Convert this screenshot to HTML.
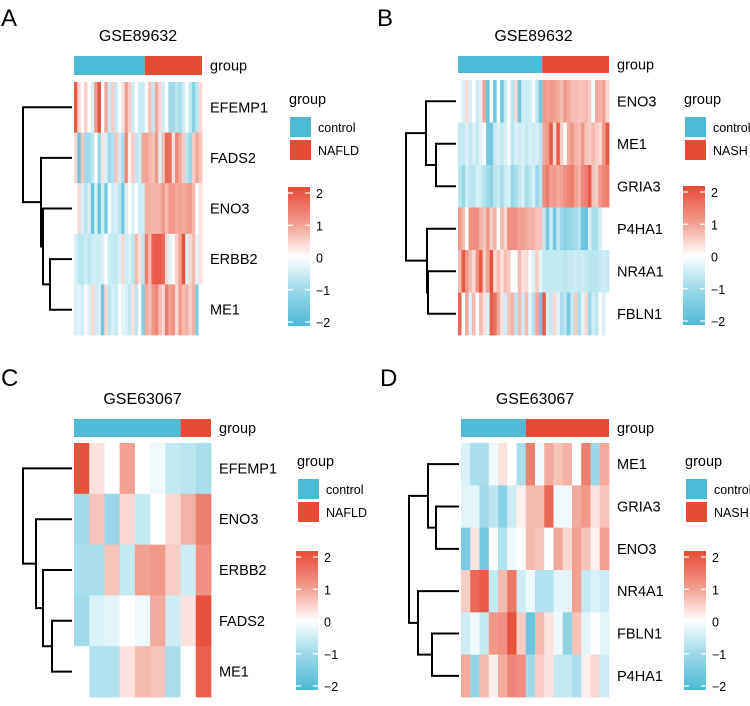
<!DOCTYPE html>
<html><head><meta charset="utf-8"><style>
html,body{margin:0;padding:0;background:#fff;}
svg text{font-family:"Liberation Sans",Arial,sans-serif;fill:#000;}
</style></head><body>
<svg id="fig" width="750" height="701" xmlns="http://www.w3.org/2000/svg"></svg>
<script>
// ---- Panel A data (GSE89632, control vs NAFLD) ----
const aRows = ["EFEMP1","FADS2","ENO3","ERBB2","ME1"];
const aGroups = ["control","NAFLD"];
const aControlN = 21;
const aEFEMP1 = [1.8,.3,0,.4,0,-.3,1,1.9,0,.8,-.4,.4,-.5,0,.2,.9,.4,-.4,0,-.4,-.5,0,.5,-.5,.8,.3,-.4,0,-.9,-.9,-.6,-.8,-.4,0,-.5,-1.2,-.6,.3];
const aFADS2 = [.3,-1.6,.5,-.9,-.9,-.6,0,-1,.2,-.3,-.9,-.7,.5,-.4,-.8,1.2,.1,.4,-.5,-.4,.8,.9,.7,.5,1,-.3,.6,1.6,1.5,.2,1.2,.8,.4,-.6,-1,.4,.8,.5];
const aENO3 = [0,.3,-.3,-.6,-.3,-1.6,-.3,-1.6,-.4,-1.5,0,-.4,-.3,-.6,-1.5,-.3,0,-.3,0,-.4,-.4,.7,.7,.7,.7,.7,1,.6,1,1,.8,.9,.8,.9,1,.6,0,.2];
const aERBB2 = [-.3,-.6,-.6,-.4,-.6,-.4,-.4,-.4,-.3,0,-.4,-.5,-.5,-.3,.3,-.4,-.3,-.6,.6,.2,-.6,1.3,.6,1.7,1.8,1.8,1.6,.3,-.2,0,.4,.9,1.9,-.3,.3,.6,-.2,.2];
const aME1 = [-.3,-.2,-.4,0,-.3,.3,-.4,-.3,-1.5,.3,-.6,-.3,-.5,0,-.2,-.3,-.5,.2,-.6,0,-1.3,.8,.6,1,1.2,.6,.3,1.3,.9,1.1,.3,1,.6,.7,.4,.7,-1.3,0];
// ---- Panel B data (GSE89632, control vs NASH) ----
const bRows = ["ENO3","ME1","GRIA3","P4HA1","NR4A1","FBLN1"];
const bGroups = ["control","NASH"];
const bControlN = 24;
const bENO3 = [0,-.3,.3,-.3,0,-.4,-.3,.9,-1.6,0,-1.6,0,-1.6,-.4,0,-.6,.3,-1.5,-.4,-.4,-.4,0,-.6,-1.5,1,.9,1,.9,.8,.6,1,.8,.6,.6,.5,.5,.6,.4,0,.8,.7,.9,.3];
const bME1 = [-.5,-.5,-.3,-.5,-.3,-.5,-.2,0,-1.5,-1.5,-.5,-.3,-.5,-.3,0,-.6,-.3,-.4,-.3,-.5,-.3,-.4,-.3,-.6,.8,1,1.8,.3,1.8,.4,0,.8,1,.7,.6,1,.5,.4,.6,.4,.3,1,1.8];
const bGRIA3 = [-.6,-1,-.4,-.6,-.6,-.3,-.4,-.7,-.9,-1.1,-.6,-.5,-.8,-.4,-.3,-1,-.8,-.5,-.3,-.8,-.6,-.3,-1,-.6,1.1,1.3,.9,1,.8,.9,1.1,1.2,1.3,.9,.7,1.2,1.3,1.8,.5,.4,1,1.2,1.3];
const bP4HA1 = [1,.6,0,1.1,1.1,1.1,.7,.5,1,.4,.7,0,.6,.3,1.1,1.1,1.1,.9,.9,.8,.7,.7,.5,.5,-.5,-1.4,-.4,-1.5,-.5,-1,-1.2,-1.1,-1,-.9,-.7,-1.6,-1.6,-.3,-.8,-.8,-.3,0,0];
const bNR4A1 = [.6,1.8,1,.6,.3,1.1,1.8,.4,.9,1.9,.3,.6,.2,.6,.4,0,0,.6,.2,.3,0,-.3,.4,-.2,-.5,-.5,-.5,-.5,-.5,-.5,-.6,-.5,-.5,-.4,-.5,-.4,-.5,-.6,-.6,-.6,-.5,-.4,-.5];
const bFBLN1 = [1.6,0,.8,-.3,.6,0,.6,.2,-.3,1.7,1.5,.8,.2,-.4,.5,.7,-.6,.6,-.4,.6,-.2,-.7,.8,-1.5,1.8,-.3,-.5,.3,-.2,-.8,-.6,-1.4,-.5,.4,-.8,-.2,.3,-1,-.4,-.6,0,-.3,0];
// ---- Panel C data (GSE63067, control vs NAFLD) ----
const cRows = ["EFEMP1","ENO3","ERBB2","FADS2","ME1"];
const cGroups = ["control","NAFLD"];
const cControlN = 7;
const cEFEMP1 = [1.9,.2,0,.9,0,-.1,-.5,-.6,-.8];
const cENO3 = [-.9,.5,-1,.3,-.5,0,.3,.7,1.3];
const cERBB2 = [-.8,-.8,.5,-.5,.9,1,.4,-.4,1.1];
const cFADS2 = [-.9,-.3,-.2,0,-.1,.8,-.4,.2,1.9];
const cME1 = [0,-.7,-.7,.2,.6,.5,-.8,0,1.7];
// ---- Panel D data (GSE63067, control vs NASH) ----
const dRows = ["ME1","GRIA3","ENO3","NR4A1","FBLN1","P4HA1"];
const dGroups = ["control","NASH"];
const dControlN = 7;
const dME1 = [-.3,-.8,-.8,-.1,.2,0,-.8,1.3,-.1,.8,.5,.7,0,1.3,-1,.8];
const dGRIA3 = [-.2,-.2,-.9,-.6,-1.2,-.4,.1,.6,.6,1.6,-.1,-.1,.8,1,.2,.5];
const dENO3 = [-1.4,.2,-1.5,0,-.7,-.1,0,.6,.5,0,.8,.3,.9,.5,.1,.9];
const dNR4A1 = [.4,1.6,1.8,-.5,.6,1.4,-.4,-.1,-.7,-.7,-.2,-.2,.9,-.5,-.3,-.4];
const dFBLN1 = [-.4,-.1,-.5,1,1.1,1.9,.4,-1.6,.6,.2,-.1,-1.1,.5,-.2,0,-.2];
const dP4HA1 = [.8,-1.1,.6,.1,.8,1.2,1.1,-.9,.4,.2,-.5,-.5,-.8,.1,.3,-.4];
const colorTicks = [2,1,0,-1,-2];

const NS="http://www.w3.org/2000/svg";
const svg=document.getElementById('fig');
const BLUE=[77,187,213], RED=[230,75,53];
function col(v){v=Math.max(-2,Math.min(2,v));const t=Math.pow(Math.abs(v)/2,0.8);const c=v<0?BLUE:RED;
 return 'rgb('+c.map(x=>Math.round(255+(x-255)*t)).join(',')+')';}
function el(tag,attrs,parent){const e=document.createElementNS(NS,tag);for(const k in attrs)e.setAttribute(k,attrs[k]);(parent||svg).appendChild(e);return e;}
function txt(s,x,y,size,parent,anchor){const t=el('text',{x:x,y:y,'font-size':size,'text-anchor':anchor||'start'},parent);t.textContent=s;return t;}

function panel(p){
 const g=el('g',{});
 
 
 const lt=txt(p.letter,p.lx,p.ly,24,g);
 
 
 const tt=txt(p.title,(p.x0+p.x1)/2,p.ty,16,g,'middle');
 
 
 const n=p.data[0].length, cw=(p.x1-p.x0)/n, rh=(p.y1-p.y0)/p.rows.length;
 const xs=i=>p.x0+i*cw, ys=r=>p.y0+r*rh;
 const ab=el('g',{},g);
 
 
 const splitX=xs(p.ctrl);
 const r1=el('rect',{x:p.x0,y:p.gy0,width:splitX-p.x0,height:p.gy1-p.gy0,fill:'rgb(77,187,213)'},ab);
 
 
 const r2=el('rect',{x:splitX,y:p.gy0,width:p.x1-splitX,height:p.gy1-p.gy0,fill:'rgb(230,75,53)'},ab);
 
 
 const gl=txt('group',p.x1+8,(p.gy0+p.gy1)/2+5,14.5,g);
 
 
 const hm=el('g',{},g);
 
 
 p.data.forEach((row,r)=>{row.forEach((v,i)=>{
  const c=el('rect',{x:xs(i),y:ys(r),width:cw+0.4,height:rh+0.4,fill:col(v)},hm);
  
  
 });
 const rl=txt(p.rows[r],p.x1+8,ys(r)+rh/2+5,14.5,g);
 
 });
 const dg=el('g',{fill:'none',stroke:'#000','stroke-width':2},g);
 
 
 const leafX=p.x0-2;
 function node(t){ if(typeof t==='number') return {y:ys(t)+rh/2,x:leafX};
  const a=node(t[1]),b=node(t[2]);const x=t[0];
  el('path',{d:'M'+a.x+' '+a.y+'H'+x+'V'+b.y+'H'+b.x},dg);
  return {y:(a.y+b.y)/2,x:x};}
 node(p.tree);
 const lg=el('g',{},g);
 
 
 txt('group',p.legX,p.legY,14.5,lg);
 [p.groups[0],p.groups[1]].forEach((name,k)=>{
  const s=el('rect',{x:p.legX+1,y:p.legY+13+k*23,width:21,height:20,fill:k?'rgb(230,75,53)':'rgb(77,187,213)'},lg);
  
  
  txt(name,p.legX+29,p.legY+28+k*23,12.5,lg);
 });
 const cb=el('g',{},g);
 
 
 const cx=p.legX-1, cy0=p.cbY, cy1=p.cbY+139;
 el('rect',{x:cx,y:cy0,width:22,height:cy1-cy0,fill:'url(#grad)'},cb);
 const vy=v=>cy0+6+(2-v)/4*(cy1-cy0-10);
 colorTicks.forEach(v=>{
  el('line',{x1:cx,x2:cx+5,y1:vy(v),y2:vy(v),stroke:'#fff','stroke-width':1.2},cb);
  el('line',{x1:cx+17,x2:cx+22,y1:vy(v),y2:vy(v),stroke:'#fff','stroke-width':1.2},cb);
  const t=txt(v<0?'\u2212'+(-v):String(v),cx+28,vy(v)+5,12.5,cb);
  
  
 });
}
const defs=el('defs',{});
const lgd=el('linearGradient',{id:'grad',x1:0,y1:0,x2:0,y2:1},defs);
[[0,2],[0.25,1],[0.5,0],[0.75,-1],[1,-2]].forEach(([o,v])=>el('stop',{offset:o,'stop-color':col(v)},lgd));

panel({letter:'A',lx:1,ly:26,title:'GSE89632',ty:41,x0:74,x1:202,gy0:56,gy1:75,y0:82,y1:335,
 rows:aRows,groups:aGroups,ctrl:aControlN,data:[aEFEMP1,aFADS2,aENO3,aERBB2,aME1],
 tree:[23,0,[41,1,[43,2,[50,3,4]]]],legX:289,legY:104,cbY:187});
panel({letter:'B',lx:377,ly:26,title:'GSE89632',ty:41,x0:458,x1:609,gy0:56,gy1:73,y0:80,y1:335,
 rows:bRows,groups:bGroups,ctrl:bControlN,data:[bENO3,bME1,bGRIA3,bP4HA1,bNR4A1,bFBLN1],
 tree:[406,[426,0,[436,1,2]],[427,3,[428,4,5]]],legX:684,legY:104,cbY:186});
panel({letter:'C',lx:1,ly:386,title:'GSE63067',ty:404,x0:74,x1:211,gy0:419,gy1:437,y0:443,y1:697,
 rows:cRows,groups:cGroups,ctrl:cControlN,data:[cEFEMP1,cENO3,cERBB2,cFADS2,cME1],
 tree:[23,0,[36,1,[43,2,[52,3,4]]]],legX:297,legY:466,cbY:551});
panel({letter:'D',lx:380,ly:386,title:'GSE63067',ty:404,x0:461,x1:609,gy0:419,gy1:437,y0:443,y1:697,
 rows:dRows,groups:dGroups,ctrl:dControlN,data:[dME1,dGRIA3,dENO3,dNR4A1,dFBLN1,dP4HA1],
 tree:[409,[428,0,[436,1,2]],[418,3,[432,4,5]]],legX:685,legY:466,cbY:551});
</script>
</body></html>
